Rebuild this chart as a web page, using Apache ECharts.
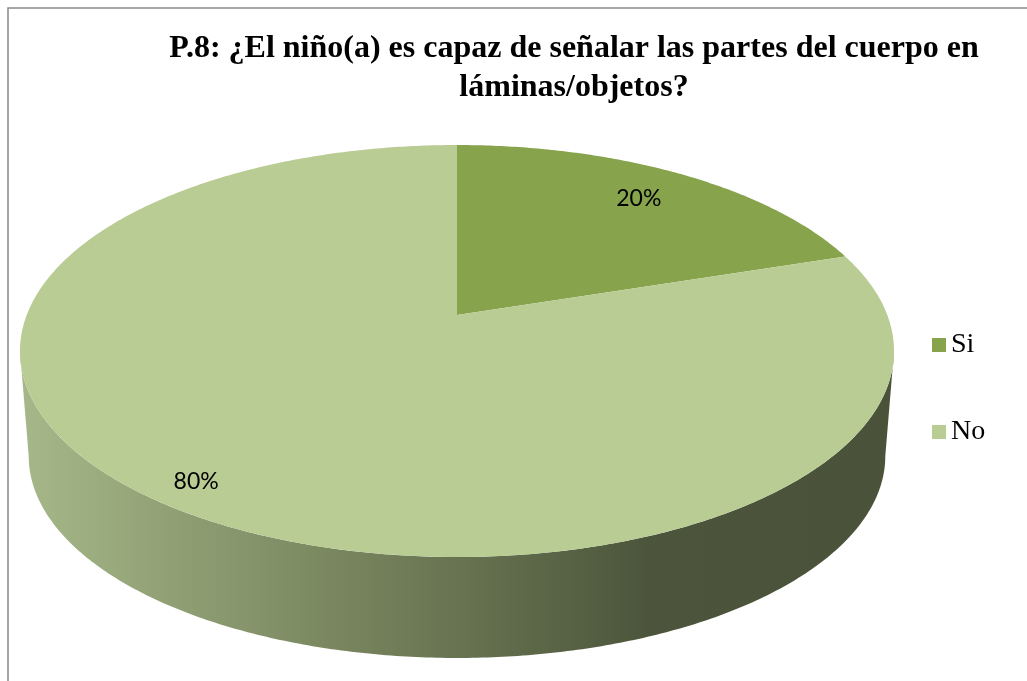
<!DOCTYPE html>
<html>
<head>
<meta charset="utf-8">
<script src="https://cdn.jsdelivr.net/npm/echarts@6/dist/echarts.min.js"></script>
<style>
  html, body { margin: 0; padding: 0; background: #fff; }
  #chart { width: 1027px; height: 681px; }
</style>
</head>
<body>
<div id="chart"></div>
<script>
var chart = echarts.init(document.getElementById('chart'));

// data
var categories = ['Si', 'No'];
var values = [20, 80];
var colors = ['#87a34c', '#b9cc94'];

// 3d pie geometry (pixels)
var cx = 457;
var k = 0.1748;               // perspective factor
var topFace = { A: 430.3, B: 199.7, cy: 315 };
var bottomFace = { A: 421.7, B: 195.7, cy: 420.8 };
var labelRadius = [0.8, 0.9];

var total = values.reduce(function (a, b) { return a + b; }, 0);
var startAngles = [];
var acc = 0;
for (var i = 0; i < values.length; i++) {
    startAngles.push(acc / total * Math.PI * 2);
    acc += values[i];
}

function proj(theta, r, face) {
    var u = r * Math.sin(theta), v = r * Math.cos(theta);
    var d = 1 + k * v;
    return [cx + face.A * u / d, face.cy - face.B * v / d];
}

function arcPoints(a0, a1, r, face) {
    var pts = [];
    var n = Math.max(2, Math.ceil((a1 - a0) / 0.01));
    for (var j = 0; j <= n; j++) {
        pts.push(proj(a0 + (a1 - a0) * j / n, r, face));
    }
    return pts;
}

// silhouette of the side wall
var visStart = Math.acos(-k);
var visEnd = Math.PI * 2 - visStart;

var wallGradient = {
    type: 'linear', x: 20, y: 0, x2: 895, y2: 0, global: true,
    colorStops: [
        { offset: 0, color: '#a6b889' },
        { offset: 0.35, color: '#7a8860' },
        { offset: 0.72, color: '#4c553b' },
        { offset: 1, color: '#4a5239' }
    ]
};

function makeSeries(idx) {
    return {
        type: 'custom',
        name: categories[idx],
        coordinateSystem: 'none',
        itemStyle: { color: colors[idx] },
        data: [values[idx]],
        renderItem: function (params, api) {
            var val = api.value(0);
            var a0 = startAngles[idx];
            var a1 = a0 + val / total * Math.PI * 2;
            var children = [];
            // outer wall (front part only)
            var w0 = Math.max(a0, visStart), w1 = Math.min(a1, visEnd);
            if (w1 > w0) {
                var topArc = arcPoints(w0, w1, 1, topFace);
                var botArc = arcPoints(w0, w1, 1, bottomFace).reverse();
                children.push({
                    type: 'polygon',
                    shape: { points: topArc.concat(botArc) },
                    style: { fill: wallGradient }
                });
            }
            // top face
            var pts = [proj(0, 0, topFace)].concat(arcPoints(a0, a1, 1, topFace));
            children.push({
                type: 'polygon',
                shape: { points: pts },
                style: { fill: colors[idx] }
            });
            // label
            var mid = (a0 + a1) / 2;
            var lp = proj(mid, labelRadius[idx], topFace);
            children.push({
                type: 'text',
                x: lp[0], y: lp[1],
                style: {
                    text: Math.round(val / total * 100) + '%',
                    fill: '#000',
                    font: '23px Lato',
                    align: 'center',
                    verticalAlign: 'middle'
                }
            });
            return { type: 'group', children: children };
        }
    };
}

var option = {
    backgroundColor: '#fff',
    animation: false,
    title: {
        text: 'P.8: ¿El niño(a) es capaz de señalar las partes del cuerpo en\nláminas/objetos?',
        left: 569,
        top: 24,
        textAlign: 'center',
        textStyle: {
            fontFamily: 'Liberation Serif',
            fontWeight: 'bold',
            fontSize: 32,
            lineHeight: 39,
            color: '#000'
        }
    },
    legend: {
        orient: 'vertical',
        left: 927,
        top: 326,
        itemWidth: 14,
        itemHeight: 14,
        itemGap: 59,
        icon: 'rect',
        data: categories,
        textStyle: {
            fontFamily: 'Liberation Serif',
            fontSize: 28,
            color: '#000'
        }
    },
    graphic: [{
        type: 'rect',
        shape: { x: 8, y: 8, width: 1100, height: 800 },
        style: { fill: 'none', stroke: '#898989', lineWidth: 1.5 },
        silent: true
    }],
    series: [makeSeries(0), makeSeries(1)]
};

chart.setOption(option);
</script>
</body>
</html>
